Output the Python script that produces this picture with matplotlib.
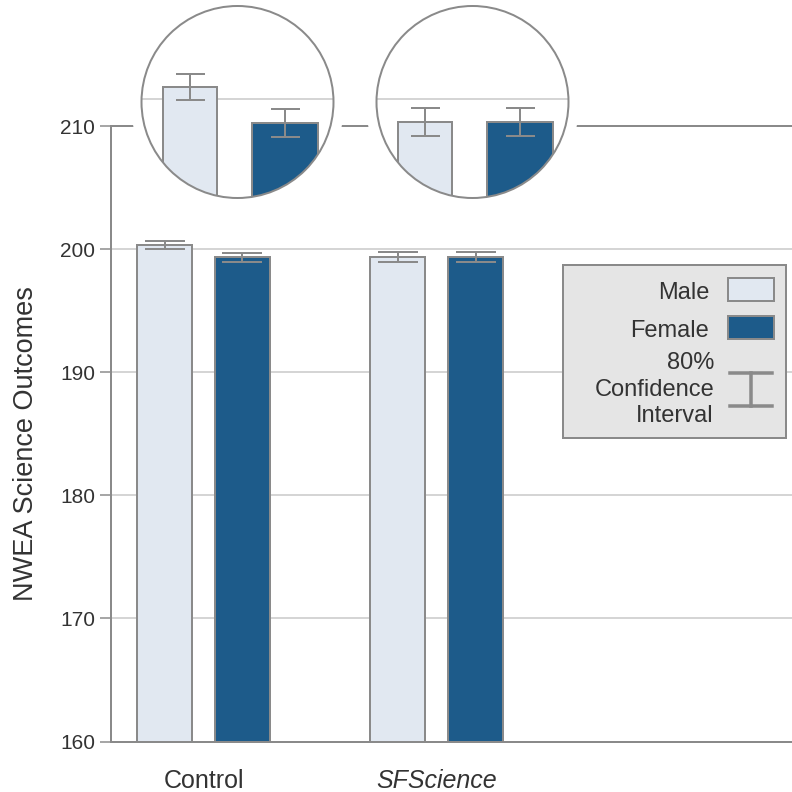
import matplotlib
matplotlib.use("Agg")
import matplotlib.pyplot as plt
from matplotlib.patches import Circle, Rectangle
from matplotlib.lines import Line2D
import numpy as np

plt.rcParams['font.family'] = ['Liberation Sans', 'DejaVu Sans']

# ---- data -------------------------------------------------------------
groups = ["Control", "SFScience"]
male_means = [200.33, 199.37]
female_means = [199.33, 199.37]
male_ci = [0.36, 0.39]
female_ci = [0.39, 0.39]
y_ticks = [160, 170, 180, 190, 200, 210]
series_labels = ["Male", "Female"]
ci_label = ["80%", "Confidence", "Interval"]
y_label = "NWEA Science Outcomes"
zoom_ref = 200  # value marked by the reference line inside each magnifier

# ---- style ------------------------------------------------------------
LIGHT = "#e1e8f1"
DARK = "#1d5b8a"
EDGE = "#8a8a8a"
GRID = "#c8c8c8"
TEXT = "#333333"
PX = 0.72  # points per pixel at 100 dpi

W = H = 792
fig = plt.figure(figsize=(7.92, 7.92), dpi=100)


def box(x0, y0, x1, y1):
    """Pixel box (top-left origin) -> figure-fraction rect."""
    return [x0 / W, 1 - y1 / H, (x1 - x0) / W, (y1 - y0) / H]


def fx(x):
    return x / W


def fy(y):
    return 1 - y / H


# ---- main axes --------------------------------------------------------
ax = fig.add_axes(box(111, 126, 792, 741.5))
x = np.arange(len(groups))
off, bw = 0.167, 0.236
ax.bar(x - off, male_means, bw, color=LIGHT, edgecolor=EDGE,
       linewidth=2 * PX, zorder=2)
ax.bar(x + off, female_means, bw, color=DARK, edgecolor=EDGE,
       linewidth=2 * PX, zorder=2)
ax.errorbar(x - off, male_means, yerr=male_ci, fmt='none', ecolor=EDGE,
            elinewidth=2 * PX, capsize=20 * PX, capthick=2 * PX, zorder=3)
ax.errorbar(x + off, female_means, yerr=female_ci, fmt='none', ecolor=EDGE,
            elinewidth=2 * PX, capsize=20 * PX, capthick=2 * PX, zorder=3)

ax.set_xlim(-0.397, 2.525)
ax.set_ylim(y_ticks[0], y_ticks[-1])
ax.set_yticks(y_ticks)
ax.yaxis.grid(True, color=GRID, linewidth=1.5 * PX)
ax.set_axisbelow(True)
ax.set_xticks(x)
ax.set_xticklabels(groups, fontsize=18, color=TEXT)
ax.get_xticklabels()[1].set_style('italic')
ax.tick_params(axis='x', length=0, pad=19.5)
ax.tick_params(axis='y', length=11 * PX, width=1.5 * PX, color=EDGE,
               labelsize=15, labelcolor=TEXT, pad=3.6)
ax.spines['right'].set_visible(False)
for s in ('left', 'bottom', 'top'):
    ax.spines[s].set_color(EDGE)
    ax.spines[s].set_linewidth(2 * PX)

fig.text(fx(33.3), fy(443.5), y_label, rotation=90, rotation_mode='anchor',
         ha='center', va='baseline', fontsize=19.5, color=TEXT)

# ---- magnifier circles ------------------------------------------------
centers = [(237.5, 102), (472.5, 102)]
R_HALO, R = 107, 96
SCALE = 36.0  # pixels per score unit inside the magnifiers
for i, (cx, cy) in enumerate(centers):
    axi = fig.add_axes(box(cx - R_HALO, cy - R_HALO, cx + R_HALO, cy + R_HALO))
    axi.set_axis_off()
    halo = Circle((0.5, 0.5), 0.5, transform=axi.transAxes,
                  facecolor='white', edgecolor='none', zorder=0)
    axi.add_patch(halo)
    clip = Circle((0.5, 0.5), R / (2 * R_HALO), transform=axi.transAxes,
                  facecolor='none', edgecolor='none')
    axi.add_patch(clip)

    bars = axi.bar([-47.5, 47.5], [male_means[i], female_means[i]],
                   width=[54, 66], color=[LIGHT, DARK], edgecolor=EDGE,
                   linewidth=2 * PX, zorder=2)
    for b in bars:
        b.set_clip_path(clip)
    gl = axi.axhline(zoom_ref, color=GRID, linewidth=1.5 * PX, zorder=1)
    gl.set_clip_path(clip)
    axi.errorbar([-47.5, 47.5], [male_means[i], female_means[i]],
                 yerr=[male_ci[i], female_ci[i]], fmt='none', ecolor=EDGE,
                 elinewidth=2 * PX, capsize=14.5 * PX, capthick=2 * PX,
                 zorder=3)
    ring = Circle((0.5, 0.5), R / (2 * R_HALO), transform=axi.transAxes,
                  facecolor='none', edgecolor=EDGE, linewidth=2 * PX,
                  zorder=5)
    axi.add_patch(ring)

    y_center = zoom_ref - 3 / SCALE
    axi.set_xlim(-R_HALO, R_HALO)
    axi.set_ylim(y_center - R_HALO / SCALE, y_center + R_HALO / SCALE)

# ---- legend -----------------------------------------------------------
fig.add_artist(Rectangle((fx(563), fy(438.3)), (786 - 563) / W,
                         (438.3 - 265) / H, transform=fig.transFigure,
                         facecolor='#e5e5e5', edgecolor=EDGE,
                         linewidth=2 * PX, zorder=10))
for label, color, base, top in [(series_labels[0], LIGHT, 299.3, 278),
                                (series_labels[1], DARK, 337.3, 315.7)]:
    fig.text(fx(709), fy(base), label, ha='right', va='baseline',
             fontsize=17, color=TEXT, zorder=11)
    fig.add_artist(Rectangle((fx(728), fy(top + 23.5)), 46 / W, 23.5 / H,
                             transform=fig.transFigure, facecolor=color,
                             edgecolor=EDGE, linewidth=2 * PX, zorder=11))
for line, base in zip(ci_label, [369.3, 395.8, 421.7]):
    fig.text(fx(714), fy(base), line, ha='right', va='baseline',
             fontsize=17, color=TEXT, zorder=11)
for xs, ys in [([751, 751], [372.7, 405.7]),
               ([730, 772], [372.7, 372.7]),
               ([730, 772], [405.7, 405.7])]:
    fig.add_artist(Line2D([fx(v) for v in xs], [fy(v) for v in ys],
                          transform=fig.transFigure, color=EDGE,
                          linewidth=3.5 * PX, zorder=11))

fig.savefig("out.png", dpi=100)
